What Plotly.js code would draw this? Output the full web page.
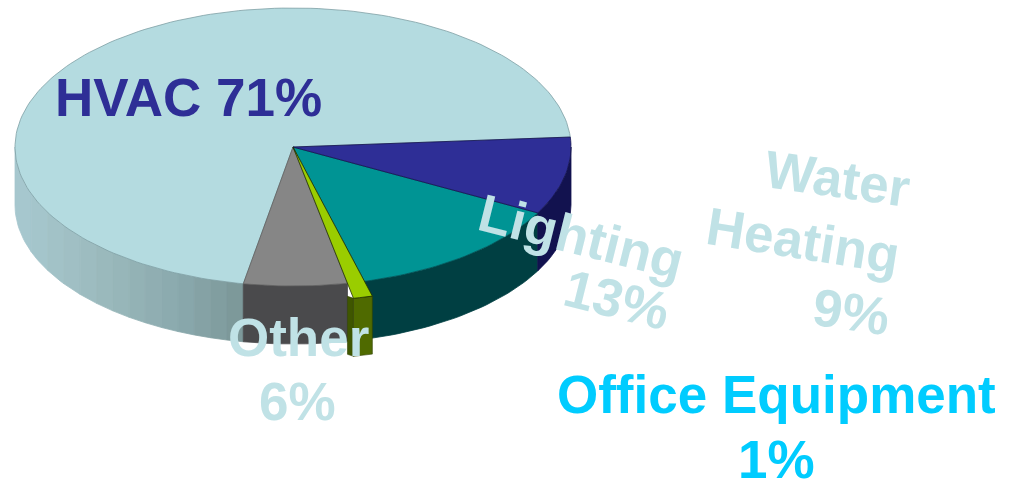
<!DOCTYPE html>
<html>
<head>
<meta charset="utf-8">
<script src="https://cdn.plot.ly/plotly-3.0.1.min.js"></script>
<style>html,body{margin:0;padding:0;background:#fff}#chart{width:1013px;height:482px}</style>
</head>
<body>
<div id="chart"></div>
<script>
// Data
const categories = ['HVAC', 'Water Heating', 'Lighting', 'Office Equipment', 'Other'];
const shares = [71, 9, 13, 1, 6];

// Slice order round the pie, counter-clockwise from the start angle
const sliceOrder = ['HVAC', 'Other', 'Office Equipment', 'Lighting', 'Water Heating'];
const topColors = {HVAC:'#b4dbe0', Other:'#868686', 'Office Equipment':'#9acd00', Lighting:'#009494', 'Water Heating':'#2e2e96'};
const sideColors = {Other:'#4a4a4c', 'Office Equipment':'#4f6a00', Lighting:'#003f42', 'Water Heating':'#12124f'};
const edgeColors = {HVAC:'#7f9fa4', Other:'#5f5f5f', 'Office Equipment':'#2f4000', Lighting:'#00575a', 'Water Heating':'#14144f'};
const hvacSideBands = ['#a6c7ce','#a4c5cb','#a2c2c7','#a0bfc4','#9dbcc0','#9ab9bc','#97b6b9','#93b2b5','#90aeb2','#8cabaf','#88a7ab','#85a2a5','#819ea0','#7d999a'];

// Pie geometry in page pixels
const cx = 293, cy = 147, rx = 278, ry = 139, depth = 58, startDeg = 4.1, explode = 1.11;

function pt(t, scale, dy) {
  const r = t * Math.PI / 180;
  return [cx + rx * scale * Math.cos(r), cy - ry * scale * Math.sin(r) + dy];
}
function arc(a, b, scale, dy) {
  const n = Math.max(2, Math.ceil(Math.abs(b - a) / 1.5));
  const out = [];
  for (let i = 0; i <= n; i++) out.push(pt(a + (b - a) * i / n, scale, dy));
  return out;
}
function poly(points, fill, line, width) {
  return {
    type: 'scatter', mode: 'lines', fill: 'toself', fillcolor: fill,
    x: points.map(p => p[0]), y: points.map(p => p[1]),
    line: {color: line, width: width}, hoverinfo: 'skip', showlegend: false
  };
}
function side(a, b, scale, fill, line, width) {
  const top = arc(a, b, scale, 0), bot = arc(b, a, scale, depth);
  return poly(top.concat(bot, [top[0]]), fill, line, width);
}

const share = name => shares[categories.indexOf(name)];
const spans = {};
let acc = startDeg;
sliceOrder.forEach(name => {
  const sweep = share(name) * 3.6;
  spans[name] = [acc, acc + sweep];
  acc += sweep;
});

const traces = [];
// Side walls: the HVAC wall is shaded in bands of equal on-screen width
const endCos = Math.cos(spans.HVAC[1] * Math.PI / 180);
const bandAngle = f => {
  const c = -1 + (endCos + 1) * f;
  return 360 - Math.acos(c) * 180 / Math.PI;
};
hvacSideBands.forEach((c, i) => {
  const n = hvacSideBands.length;
  traces.push(side(bandAngle(i / n), bandAngle((i + 1) / n), 1, c, c, 0.8));
});
['Other', 'Lighting', 'Water Heating'].forEach(name => {
  traces.push(side(spans[name][0], name === 'Water Heating' ? 360 : spans[name][1], 1, sideColors[name], sideColors[name], 0.8));
});
// Top faces
['HVAC', 'Other', 'Lighting', 'Water Heating'].forEach(name => {
  const [a, b] = spans[name];
  const pts = [[cx, cy]].concat(arc(a, b, 1, 0), [[cx, cy]]);
  traces.push(poly(pts, topColors[name], edgeColors[name], 0.8));
});
// Pulled-out office equipment slice
const oe = spans['Office Equipment'];
const oeL = pt(oe[0], explode, 0), oeR = pt(oe[1], explode, 0);
traces.push(poly([[oeL[0] - 6, oeL[1] - 2], oeL, [oeL[0], oeL[1] + depth], [oeL[0] - 6, oeL[1] + depth - 2], [oeL[0] - 6, oeL[1] - 2]], '#3f5600', '#2f4000', 0.6));
traces.push(side(oe[0], oe[1], explode, sideColors['Office Equipment'], '#2f4000', 0.6));
traces.push(poly([[cx, cy]].concat(arc(oe[0], oe[1], explode, 0), [[cx, cy]]), topColors['Office Equipment'], '#1f2d00', 0.8));

// Labels
const pct = name => share(name) + '%';
const dark = '#2e2e96', pale = '#c0e2e6', cyan = '#00ccff';
const labels = [
  ['HVAC ' + pct('HVAC'), 188, 97, 0, dark],
  ['Water', 837, 178, 8, pale],
  ['Heating', 803, 240, 9, pale],
  [pct('Water Heating'), 851, 311, 8, pale],
  ['Lighting', 581, 236, 14, pale],
  [pct('Lighting'), 617, 299, 14, pale],
  ['Other', 298, 337, 0, pale],
  [pct('Other'), 297, 401, 0, pale],
  ['Office Equipment', 776, 394, 0, cyan],
  [pct('Office Equipment'), 776, 459, 0, cyan]
];
const annotations = labels.map(l => ({
  text: l[0], x: l[1], y: l[2], xref: 'x', yref: 'y', textangle: l[3],
  xanchor: 'center', yanchor: 'middle', showarrow: false,
  font: {family: '"Liberation Sans", Arial, sans-serif', size: 53, color: l[4], weight: 700}
}));

const axis = {visible: false, fixedrange: true};
Plotly.newPlot('chart', traces, {
  width: 1013, height: 482,
  margin: {l: 0, r: 0, t: 0, b: 0},
  paper_bgcolor: '#ffffff', plot_bgcolor: '#ffffff',
  showlegend: false,
  xaxis: Object.assign({range: [0, 1013]}, axis),
  yaxis: Object.assign({range: [482, 0]}, axis),
  annotations: annotations
}, {displayModeBar: false, staticPlot: true});
</script>
</body>
</html>
